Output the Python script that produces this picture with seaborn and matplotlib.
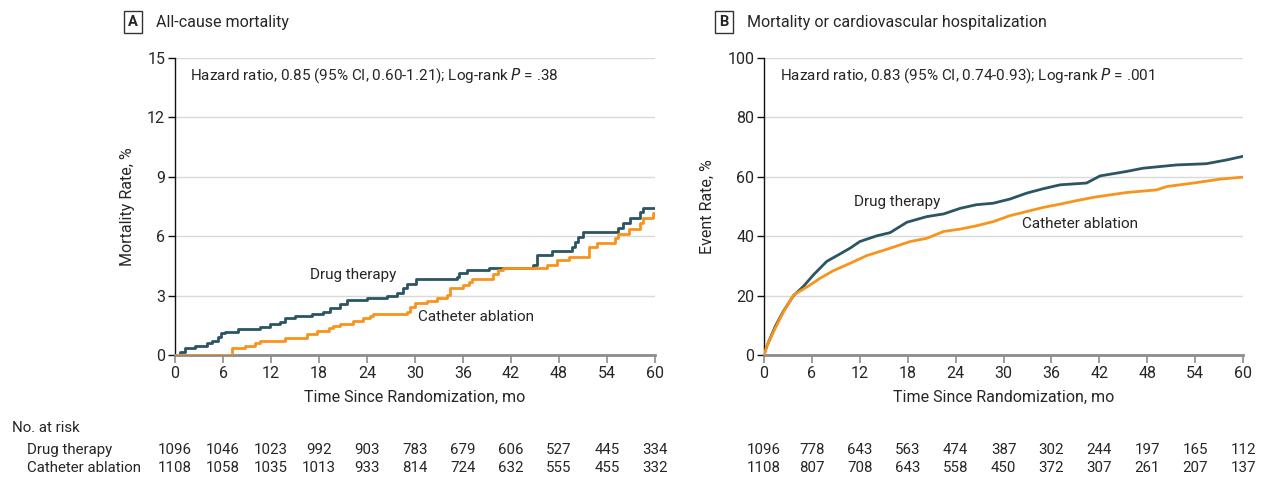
import matplotlib
matplotlib.use("Agg")
import matplotlib.pyplot as plt
import matplotlib.transforms as mtransforms
import seaborn as sns
import pandas as pd

# ---------------- data ----------------
months_ticks = [0, 6, 12, 18, 24, 30, 36, 42, 48, 54, 60]

# Panel A: all-cause mortality (%), step curves
a_drug_t = [0, 0.6, 1.25, 2.5, 4.0, 4.6, 5.4, 5.8, 6.25, 7.9, 10.6, 11.9, 13.1, 13.75, 15,
            17.1, 18.5, 19.4, 20.6, 21.5, 24, 26.5, 27.7, 28.5, 29, 30.1, 35.3, 35.5, 36.5,
            39.2, 44.8, 45.2, 47.1, 49.6, 50, 50.4, 51, 55.4, 56, 56.9, 58.1, 58.5, 60]
a_drug_y = [0, 0.17, 0.34, 0.47, 0.59, 0.70, 0.93, 1.10, 1.18, 1.31, 1.43, 1.55, 1.68, 1.89, 1.99,
            2.07, 2.19, 2.36, 2.58, 2.78, 2.90, 3.00, 3.11, 3.37, 3.59, 3.84, 3.96, 4.16, 4.28,
            4.41, 4.55, 5.05, 5.25, 5.47, 5.72, 5.98, 6.23, 6.40, 6.65, 6.94, 7.20, 7.44, 7.44]
a_abl_t = [0, 7.1, 8.75, 10, 10.6, 13.75, 16.5, 17.7, 19.2, 19.8, 20.6, 22.3, 23.5, 24.4, 24.8,
           29, 29.4, 30, 31.5, 32.7, 34, 34.4, 36, 36.7, 37.1, 39.8, 40.4, 41, 46.5, 47.7,
           49.2, 51.7, 52.7, 55, 55.4, 56.7, 58.1, 58.5, 59.8, 60]
a_abl_y = [0, 0.34, 0.47, 0.62, 0.72, 0.84, 1.06, 1.23, 1.35, 1.46, 1.55, 1.73, 1.85, 1.97, 2.05,
           2.19, 2.44, 2.64, 2.74, 2.86, 3.03, 3.40, 3.54, 3.70, 3.84, 4.07, 4.29, 4.41, 4.55, 4.80,
           4.97, 5.47, 5.67, 5.89, 6.09, 6.36, 6.65, 6.90, 7.15, 7.15]

# Panel B: mortality or CV hospitalization (%)
b_drug_t = [0, 0.33, 1.4, 2.4, 3.7, 4.9, 6.2, 7.85, 9.5, 10.8, 12, 14.1, 15.8, 17.9, 20.4, 22.5,
            24.6, 26.6, 28.7, 30.8, 32.9, 35, 37.1, 40.4, 42.1, 45.4, 47.5, 51.7, 55.4, 58, 60]
b_drug_y = [0, 2.8, 9.6, 14.6, 20, 23, 27, 31.5, 34, 36, 38.2, 40.1, 41.2, 44.7, 46.6, 47.5,
            49.4, 50.6, 51.1, 52.5, 54.5, 56, 57.3, 57.9, 60.3, 61.8, 62.9, 64, 64.4, 65.7, 66.9]
b_abl_t = [0, 0.33, 1.4, 2.4, 3.7, 5.8, 7, 8.7, 10.8, 12.9, 15.4, 18.3, 20.4, 22.5, 24.6, 26.6,
           28.7, 30.8, 32.9, 35, 37.1, 39.2, 41.3, 43.3, 45.4, 49.2, 50.4, 53.8, 57.1, 60]
b_abl_y = [0, 2.8, 9.0, 14.3, 20.2, 23.6, 25.8, 28.4, 30.9, 33.5, 35.6, 38.2, 39.3, 41.6, 42.4, 43.5,
           44.9, 46.9, 48.3, 49.7, 50.8, 52, 53.1, 53.9, 54.7, 55.6, 56.7, 57.9, 59.2, 59.9]

a_risk_drug = [1096, 1046, 1023, 992, 903, 783, 679, 606, 527, 445, 334]
a_risk_abl = [1108, 1058, 1035, 1013, 933, 814, 724, 632, 555, 455, 332]
b_risk_drug = [1096, 778, 643, 563, 474, 387, 302, 244, 197, 165, 112]
b_risk_abl = [1108, 807, 708, 643, 558, 450, 372, 307, 261, 207, 137]

# ---------------- style ----------------
sns.set_theme(style="white")
plt.rcParams['font.family'] = ['Roboto', 'DejaVu Sans']
TXT = '#262626'
DARK = '#2B5563'
ORANGE = '#F7941D'
FS = 11

fig = plt.figure(figsize=(12.67, 4.79), dpi=100)
W, H = 1267, 479
axA = fig.add_axes([175 / W, 1 - 355 / H, 480 / W, 297 / H])
axB = fig.add_axes([764 / W, 1 - 355 / H, 479 / W, 297 / H])


def frame(df_drug, df_abl, ax, steps, ymax, ystep, ylabel):
    kw = dict(estimator=None, sort=False, lw=2.0, legend=False, ax=ax)
    if steps:
        kw['drawstyle'] = 'steps-post'
    sns.lineplot(data=df_drug, x='t', y='v', color=DARK, **kw)
    sns.lineplot(data=df_abl, x='t', y='v', color=ORANGE, zorder=3, **kw)
    ax.set_xlim(0, 60)
    ax.set_ylim(0, ymax)
    ax.set_xticks(months_ticks)
    ax.set_yticks(list(range(0, ymax + 1, ystep)))
    for y in range(ystep, ymax + 1, ystep):
        ax.axhline(y, color='#d9d9d9', lw=1.0, zorder=0)
    for s in ['top', 'right']:
        ax.spines[s].set_visible(False)
    ax.spines['left'].set_color('#111111')
    ax.spines['left'].set_linewidth(1.0)
    ax.spines['bottom'].set_color('#8c8c8c')
    ax.spines['bottom'].set_linewidth(2.0)
    ax.tick_params(axis='y', direction='out', length=5, width=1, color='#111111',
                   labelsize=FS + 0.5, labelcolor=TXT, pad=2, left=True)
    ax.tick_params(axis='x', direction='out', length=6, width=1.2, color='#8c8c8c',
                   labelsize=FS + 0.5, labelcolor=TXT, pad=2, bottom=True)
    ax.set_xlabel('Time Since Randomization, mo', fontsize=FS + 0.5, color=TXT, labelpad=6)
    ax.set_ylabel(ylabel, fontsize=FS + 0.5, color=TXT, labelpad=9)
    ax.patch.set_alpha(0)


dfA_d = pd.DataFrame({'t': a_drug_t, 'v': a_drug_y})
dfA_a = pd.DataFrame({'t': a_abl_t, 'v': a_abl_y})
dfB_d = pd.DataFrame({'t': b_drug_t, 'v': b_drug_y})
dfB_a = pd.DataFrame({'t': b_abl_t, 'v': b_abl_y})

frame(dfA_d, dfA_a, axA, True, 15, 3, 'Mortality Rate, %')
frame(dfB_d, dfB_a, axB, False, 100, 20, 'Event Rate, %')

# hazard ratio text
axA.text(0.031, 0.94, 'Hazard ratio, 0.85 (95% CI, 0.60-1.21); Log-rank $\\it{P}$ = .38',
         transform=axA.transAxes, fontsize=FS, color=TXT, va='center', ha='left')
axB.text(0.033, 0.94, 'Hazard ratio, 0.83 (95% CI, 0.74-0.93); Log-rank $\\it{P}$ = .001',
         transform=axB.transAxes, fontsize=FS, color=TXT, va='center', ha='left')

# curve labels
axA.text(16.9, 4.04, 'Drug therapy', fontsize=FS, color=TXT, va='center', ha='left')
axA.text(30.4, 1.92, 'Catheter ablation', fontsize=FS, color=TXT, va='center', ha='left')
axB.text(11.3, 51.5, 'Drug therapy', fontsize=FS, color=TXT, va='center', ha='left')
axB.text(32.3, 44.1, 'Catheter ablation', fontsize=FS, color=TXT, va='center', ha='left')

# panel titles
box = dict(boxstyle='square,pad=0.3', fc='white', ec='#333333', lw=1.0)
fig.text(133 / W, 1 - 22 / H, 'A', fontsize=FS - 0.5, fontweight='bold', color=TXT,
         ha='center', va='center', bbox=box)
fig.text(156 / W, 1 - 22 / H, 'All-cause mortality', fontsize=FS + 0.5, color=TXT,
         ha='left', va='center')
fig.text(724 / W, 1 - 22 / H, 'B', fontsize=FS - 0.5, fontweight='bold', color=TXT,
         ha='center', va='center', bbox=box)
fig.text(747 / W, 1 - 22 / H, 'Mortality or cardiovascular hospitalization', fontsize=FS + 0.5,
         color=TXT, ha='left', va='center')

# risk table
RF = FS - 0.2
fig.text(12 / W, 1 - 428 / H, 'No. at risk', fontsize=RF, color=TXT, ha='left', va='center')
fig.text(27 / W, 1 - 450 / H, 'Drug therapy', fontsize=RF, color=TXT, ha='left', va='center')
fig.text(27 / W, 1 - 468 / H, 'Catheter ablation', fontsize=RF, color=TXT, ha='left', va='center')
for ax, rd, ra in [(axA, a_risk_drug, a_risk_abl), (axB, b_risk_drug, b_risk_abl)]:
    tr = mtransforms.blended_transform_factory(ax.transData, fig.transFigure)
    for m, d, a in zip(months_ticks, rd, ra):
        ax.text(m, 1 - 450 / H, str(d), transform=tr, fontsize=RF, color=TXT,
                ha='center', va='center', clip_on=False)
        ax.text(m, 1 - 468 / H, str(a), transform=tr, fontsize=RF, color=TXT,
                ha='center', va='center', clip_on=False)

fig.savefig('out.png', dpi=100, facecolor='white')
